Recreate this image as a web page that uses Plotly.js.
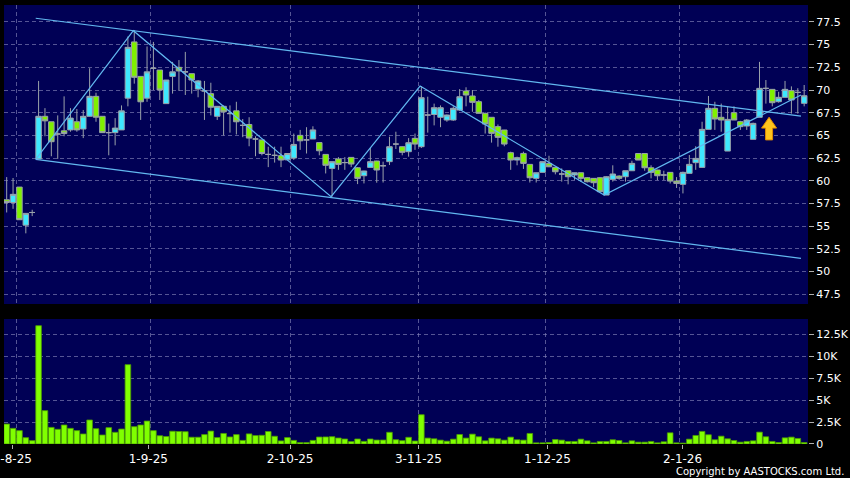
<!DOCTYPE html>
<html><head><meta charset="utf-8">
<script src="https://cdn.plot.ly/plotly-3.0.1.min.js"></script>
<style>html,body{margin:0;padding:0;background:#000;}#c{width:850px;height:478px;}</style>
</head><body><div id="c"></div>
<script>
// ---- data ----
const openP = [57.9,57.6,59.3,55.1,56.5,62.4,67.1,66.5,65.15,65.5,65.6,66.5,65.7,67.1,69.3,67.1,65.3,65.3,65.6,69.1,
75.3,71.5,69.1,72.4,72.2,68.5,71.5,72.5,72.0,71.8,70.1,69.9,69.6,67.1,68.2,67.4,67.7,66.1,66.2,64.6,
64.5,62.9,62.8,62.76,62.3,62.5,65.0,64.5,64.6,64.2,62.9,61.36,62.4,62.0,62.57,61.43,60.55,61.47,62.17,61.65,
62.1,64.04,63.75,63.2,64.67,63.75,67.24,67.3,66.99,66.69,66.69,67.79,69.89,69.34,68.71,67.43,66.99,65.96,65.59,63.09,
62.28,63.01,61.8,60.26,60.92,61.91,61.47,60.74,61.1,60.63,60.88,60.33,60.26,60.33,58.42,60.15,60.51,60.44,61.1,63.0,
63.0,61.43,61.18,60.63,60.92,59.96,59.6,60.81,61.99,61.47,65.66,67.98,66.99,63.27,67.5,66.51,66.03,64.56,66.99,70.18,
70.07,68.71,69.19,69.93,69.74,68.53];
const highP = [60.4,60.3,59.3,56.4,56.8,71.0,68.0,66.5,67.2,69.3,68.0,67.9,67.8,72.4,69.7,67.1,66.3,66.9,68.3,75.9,
76.6,71.5,74.8,75.3,72.2,71.1,73.1,73.3,74.2,71.8,71.1,71.0,70.8,68.2,68.3,68.3,68.7,66.8,67.0,64.9,
64.5,63.75,63.75,63.75,63.0,65.2,65.6,65.9,66.0,64.2,62.9,62.1,62.6,62.6,62.6,61.5,61.1,63.6,62.2,62.1,
64.85,65.4,63.8,64.7,65.2,70.44,69.26,68.5,68.3,67.3,68.2,70.1,70.3,70.0,68.9,67.5,67.0,66.2,65.6,63.2,
62.65,63.2,61.8,60.9,62.1,62.75,61.5,61.36,61.1,60.9,60.9,60.4,60.3,60.4,60.5,61.7,60.6,61.1,62.2,63.0,
63.0,61.7,61.2,61.1,60.92,60.4,61.0,62.83,63.8,66.5,69.34,68.7,68.5,68.2,68.2,66.6,66.8,66.4,73.1,71.1,
70.1,69.8,71.0,70.4,70.2,70.55];
const lowP = [56.5,56.9,55.7,54.2,56.1,62.4,64.9,62.7,62.4,64.9,65.4,65.4,64.7,67.1,66.5,65.3,62.8,63.9,65.6,68.2,
70.7,66.7,68.7,70.0,68.9,68.5,69.6,69.9,69.45,69.6,69.2,66.7,67.2,66.7,65.0,65.3,65.1,64.8,63.8,62.7,
62.8,61.5,62.0,61.5,62.28,62.3,63.4,63.0,64.6,62.8,60.8,58.24,61.2,61.2,61.5,59.63,59.7,61.47,59.78,59.8,
61.73,63.5,62.8,62.65,63.4,63.6,65.3,66.1,65.9,66.5,66.6,67.7,68.2,67.6,67.4,65.2,64.2,63.75,63.8,61.2,
61.7,61.3,59.8,59.8,60.9,61.5,60.7,59.9,59.6,60.1,59.9,59.8,59.3,58.79,58.42,59.9,60.1,59.9,61.1,62.28,
61.1,60.26,60.07,60.07,59.7,59.2,58.6,60.81,61.2,61.47,65.66,65.6,65.4,63.27,66.69,65.6,65.6,64.56,66.99,68.5,
68.2,68.6,69.19,67.4,67.4,68.2];
const closeP = [57.6,58.5,55.7,56.4,56.5,67.1,66.6,64.3,65.15,65.2,66.9,65.6,67.1,69.3,67.0,65.3,65.3,65.8,67.7,74.7,
71.4,68.7,72.0,72.4,70.0,71.1,72.0,72.1,72.0,71.1,71.0,69.9,68.1,68.2,67.6,67.4,66.5,66.1,64.7,64.6,
63.0,62.9,62.8,62.28,63.0,64.0,64.4,64.5,65.6,63.3,61.7,62.1,61.8,62.0,61.84,60.26,61.07,62.1,61.18,61.65,
63.75,64.04,63.13,64.19,64.04,69.15,67.24,68.05,68.05,67.24,67.98,69.26,69.45,68.64,67.43,66.25,65.22,64.78,64.04,62.28,
62.54,61.91,60.33,60.88,62.1,61.54,60.99,60.74,60.44,60.88,60.26,59.89,59.78,58.79,60.44,60.74,60.26,61.1,61.91,62.28,
61.43,60.92,60.55,60.63,59.96,59.7,60.92,61.8,62.46,65.66,67.98,66.8,66.69,66.76,66.69,65.96,66.69,66.32,70.18,70.18,
68.6,69.19,70.07,68.9,69.74,69.37];
const volume = [2270,1780,1520,720,380,13450,3790,1890,1670,2160,1780,1520,1140,2730,1740,1020,1860,1330,1700,9020,
1970,2160,2610,1520,940,850,1450,1420,1400,770,770,1070,1470,730,1200,800,1070,410,1150,960,
990,1420,880,350,730,410,160,160,410,790,800,830,680,570,270,570,300,570,450,450,
1330,490,380,760,340,3330,670,590,440,320,550,1080,670,1120,820,360,670,590,440,780,
480,440,1200,130,130,170,510,440,290,290,550,360,130,290,290,480,400,130,360,210,
210,290,130,250,1270,130,100,550,970,1430,1050,480,890,590,400,210,290,360,1350,820,
290,170,700,780,630,170];

const xTickPos = [0.88, 22.2, 44.42, 64.53, 84.76, 105.93];
const xTickLabels = ['1-8-25','1-9-25','2-10-25','3-11-25','1-12-25','2-1-26'];
const xGridPos = [1.57, 22.58, 44.53, 64.57, 84.51, 105.46];
const priceTicks = [47.5,50,52.5,55,57.5,60,62.5,65,67.5,70,72.5,75,77.5];
const priceTickText = ['47.5','50','52.5','55','57.5','60','62.5','65','67.5','70','72.5','75','77.5'];
const volTicks = [0,2500,5000,7500,10000,12500];
const volTickText = ['0','2.5K','5K','7.5K','10K','12.5K'];

// trend lines (index, price)
const upperX = [4.55, 124.5], upperY = [77.91, 67.13];
const lowerX = [4.55, 124.5], lowerY = [62.36, 51.44];
const zigX = [4.55, 19.85, 50.85, 64.8, 93.65, 124.5];
const zigY = [62.36, 76.54, 58.24, 70.44, 58.42, 69.45];
// arrow marker (index, price)
const arrowX = [119.5, 120.68, 120.05, 120.05, 118.95, 118.95, 118.32];
const arrowY = [67.0, 65.8, 65.8, 64.5, 64.5, 65.8, 65.8];

// ---- chart ----
const idx = openP.map((_, i) => i);
const FONT = 'DejaVu Sans, sans-serif';
const GRID = 'rgba(130,130,185,0.65)';
const GDASH = '4px,3px';
const LINE = '#62b8f0';

const traces = [
  {type:'candlestick', x:idx, open:openP, high:highP, low:lowP, close:closeP,
   xaxis:'x', yaxis:'y', whiskerwidth:0, hoverinfo:'none',
   increasing:{fillcolor:'#3ee8ff', line:{color:'#9aa2aa', width:1}},
   decreasing:{fillcolor:'#80f000', line:{color:'#9aa2aa', width:1}}},
  {type:'scatter', mode:'lines', x:upperX, y:upperY, xaxis:'x', yaxis:'y', line:{color:LINE, width:1.2}, hoverinfo:'none'},
  {type:'scatter', mode:'lines', x:lowerX, y:lowerY, xaxis:'x', yaxis:'y', line:{color:LINE, width:1.2}, hoverinfo:'none'},
  {type:'scatter', mode:'lines', x:zigX, y:zigY, xaxis:'x', yaxis:'y', line:{color:LINE, width:1.2}, hoverinfo:'none'},
  {type:'bar', x:idx, y:volume, xaxis:'x2', yaxis:'y2', hoverinfo:'none',
   marker:{color:'#80ff00', line:{color:'#4c9c00', width:0.8}}}
];

let arrowPath = 'M ' + arrowX.map((x, i) => x + ',' + arrowY[i]).join(' L ') + ' Z';

const xr = [-0.42, 125.6];
const layout = {
  width:850, height:478,
  paper_bgcolor:'#000000', plot_bgcolor:'#000055',
  margin:{l:4, r:42, t:5, b:34},
  showlegend:false,
  boxgap:0.14, boxgroupgap:0, bargap:0.12,
  font:{family:FONT, color:'#ffffff', size:11},
  xaxis:{domain:[0,1], anchor:'y', range:xr, tickmode:'array', tickvals:xGridPos,
    showticklabels:false, ticks:'', showgrid:true, gridcolor:GRID, griddash:GDASH, gridwidth:1,
    zeroline:false, showline:false, rangeslider:{visible:false}},
  xaxis2:{domain:[0,1], anchor:'y2', range:xr, tickmode:'array', tickvals:xTickPos, ticktext:xTickLabels,
    ticks:'outside', ticklen:4, tickcolor:'#b0b0b0', tickfont:{color:'#ffffff', size:12, family:FONT},
    showgrid:false, zeroline:false, showline:false, ticklabeloverflow:'allow',
    minor:{tickmode:'array', tickvals:xGridPos, showgrid:true, gridcolor:GRID, griddash:GDASH, gridwidth:1, ticks:''}},
  yaxis:{domain:[0.3189,1], anchor:'x', side:'right', range:[46.41,79.37], tickmode:'array',
    tickvals:priceTicks, ticktext:priceTickText, ticks:'outside', ticklen:5, tickcolor:'#b0b0b0',
    tickfont:{color:'#ffffff', size:11, family:FONT}, showgrid:true, gridcolor:GRID, griddash:GDASH,
    zeroline:false, showline:false},
  yaxis2:{domain:[0,0.2847], anchor:'x2', side:'right', range:[0,14210], tickmode:'array',
    tickvals:volTicks, ticktext:volTickText, ticks:'outside', ticklen:5, tickcolor:'#b0b0b0',
    tickfont:{color:'#ffffff', size:11, family:FONT}, showgrid:true, gridcolor:GRID, griddash:GDASH,
    zeroline:false, showline:false},
  shapes:[{type:'path', xref:'x', yref:'y', path:arrowPath, fillcolor:'#ffc41c', line:{color:'#e08a00', width:1}}],
  annotations:[{xref:'paper', yref:'paper', x:1.047, y:-0.063, xanchor:'right', yanchor:'middle',
    text:'Copyright by AASTOCKS.com Ltd.', showarrow:false, font:{color:'#ffffff', size:10, family:FONT}}]
};

Plotly.newPlot('c', traces, layout, {staticPlot:true, displayModeBar:false});
</script></body></html>
